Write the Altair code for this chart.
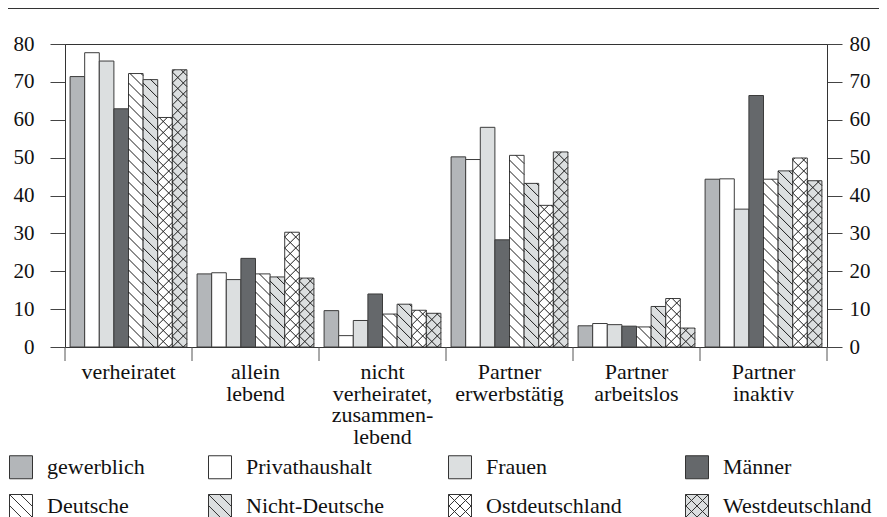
import math
import altair as alt
import pandas as pd

# ---------------- data ----------------
categories = ["verheiratet", "allein lebend", "nicht verheiratet, zusammenlebend",
              "Partner erwerbstätig", "Partner arbeitslos", "Partner inaktiv"]
category_labels = ["verheiratet", "allein|lebend", "nicht|verheiratet,|zusammen-|lebend",
                   "Partner|erwerbstätig", "Partner|arbeitslos", "Partner|inaktiv"]

series_names = ["gewerblich", "Privathaushalt", "Frauen", "Männer",
                "Deutsche", "Nicht-Deutsche", "Ostdeutschland", "Westdeutschland"]

gewerblich = [71.4, 19.3, 9.6, 50.2, 5.6, 44.3]
privathaushalt = [77.7, 19.6, 3.0, 49.5, 6.2, 44.4]
frauen = [75.5, 17.8, 7.0, 58.0, 5.9, 36.4]
maenner = [62.9, 23.4, 14.0, 28.3, 5.5, 66.4]
deutsche = [72.2, 19.3, 8.7, 50.6, 5.3, 44.3]
nicht_deutsche = [70.6, 18.5, 11.3, 43.2, 10.7, 46.5]
ostdeutschland = [60.6, 30.3, 9.7, 37.4, 12.8, 49.9]
westdeutschland = [73.2, 18.2, 8.9, 51.5, 5.0, 43.9]

series_values = [gewerblich, privathaushalt, frauen, maenner,
                 deutsche, nicht_deutsche, ostdeutschland, westdeutschland]

y_ticks = [0, 10, 20, 30, 40, 50, 60, 70, 80]

# ---------------- style ----------------
fill_colors = ["#b3b6b9", "#ffffff", "#dcdfe0", "#65686b",
               "#ffffff", "#dcdfe0", "#ffffff", "#dcdfe0"]
outline_colors = ["#333333"] * len(series_names)
hatch_kind = ["none", "none", "none", "none", "back", "back", "cross", "cross"]

SQ = "M-1,-1H1V1H-1Z"
BACK = SQ + " M-1,-1L1,1 M-1,-0.04L0.04,1 M-0.04,-1L1,0.04"
CROSS = BACK + " M-1,1L1,-1 M-0.04,1L1,-0.04 M-1,0.04L0.04,-1"
shape_paths = [SQ if k == "none" else (BACK if k == "back" else CROSS) for k in hatch_kind]

FONT = "Liberation Serif"
TXT = "#111"
FS = 21        # tick labels
FSL = 22       # category / legend labels
W, H = 762, 303
NCAT = len(categories)
YMAX = 80
PAD = 0.04
BW = (1 - 2 * PAD) / len(series_names)
PX = W / NCAT
PY = H / YMAX
S = 11.0  # hatch spacing (px)

# ---------------- tables ----------------
rows = []
hatch = []
for si, (name, vals) in enumerate(zip(series_names, series_values)):
    for ci, v in enumerate(vals):
        x0 = ci + PAD + si * BW
        rows.append(dict(series=name, cat=categories[ci], x0=x0, x1=x0 + BW, v=v))
        kind = hatch_kind[si]
        if kind == "none":
            continue
        w = BW * PX
        h = v * PY
        k = 1
        while k * S < h + w:          # "\" lines
            c = k * S
            t0, t1 = max(0.0, c - h), min(w, c)
            if t1 > t0:
                hatch.append(dict(x=x0 + t0 / PX, x2=x0 + t1 / PX,
                                  y=(c - t0) / PY, y2=(c - t1) / PY))
            k += 1
        if kind == "cross":
            k = -int(math.ceil(w / S))
            while k * S < h:          # "/" lines
                c = k * S
                t0, t1 = max(0.0, -c), min(w, h - c)
                if t1 > t0:
                    hatch.append(dict(x=x0 + t0 / PX, x2=x0 + t1 / PX,
                                      y=(c + t0) / PY, y2=(c + t1) / PY))
                k += 1

bars = pd.DataFrame(rows)
hatch_df = pd.DataFrame(hatch)
cat_df = pd.DataFrame({"pos": [i + 0.5 for i in range(NCAT)], "label": category_labels})
bound_df = pd.DataFrame({"b": list(range(NCAT + 1))})

xscale = alt.Scale(domain=[0, NCAT], nice=False, zero=False)
def yscale():
    return alt.Scale(domain=[0, YMAX], nice=False)

def y_axis(orient, pad):
    return alt.Axis(orient=orient, values=y_ticks, tickSize=15, tickColor="#444", tickWidth=1,
                    domain=True, domainColor="#333", grid=False, title=None,
                    labelFont=FONT, labelFontSize=FS, labelColor=TXT, labelPadding=pad)

fill_scale = alt.Scale(domain=series_names, range=fill_colors)
shape_scale = alt.Scale(domain=series_names, range=shape_paths)
stroke_scale = alt.Scale(domain=series_names, range=outline_colors)

legend = alt.Legend(title=None, orient="none", legendX=-56, legendY=411, direction="horizontal",
                    columns=4, columnPadding=61, rowPadding=11, symbolSize=529,
                    symbolStrokeWidth=1, symbolOpacity=1,
                    labelFont=FONT, labelFontSize=FSL, labelColor=TXT, labelOffset=14,
                    gridAlign="each", padding=0, labelLimit=300)

bar_layer = alt.Chart(bars).mark_rect(stroke="#3c3c3c", strokeWidth=1).encode(
    x=alt.X("x0:Q", scale=xscale, axis=None),
    x2="x1:Q",
    y=alt.Y("v:Q", scale=yscale(), axis=y_axis("left", 16)),
    y2=alt.datum(0),
    fill=alt.Fill("series:N", scale=fill_scale, legend=legend),
)

# invisible points that carry the hatched legend symbols
legend_layer = alt.Chart(bars).mark_point(filled=True, opacity=0, size=1, strokeWidth=1).encode(
    x=alt.X("x0:Q", scale=xscale, axis=None),
    y=alt.Y("v:Q", scale=yscale(), axis=None),
    fill=alt.Fill("series:N", scale=fill_scale, legend=legend),
    shape=alt.Shape("series:N", scale=shape_scale, legend=legend),
    stroke=alt.Stroke("series:N", scale=stroke_scale, legend=legend),
)

hatch_layer = alt.Chart(hatch_df).mark_rule(color="#1a1a1a", strokeWidth=1).encode(
    x=alt.X("x:Q", scale=xscale, axis=None),
    x2="x2:Q",
    y=alt.Y("y:Q", scale=yscale(), axis=y_axis("right", 7)),
    y2="y2:Q",
)

# category separator ticks below the zero line
sep_layer = alt.Chart(bound_df).mark_rule(color="#555", strokeWidth=1).encode(
    x=alt.X("b:Q", scale=xscale, axis=None),
    y=alt.value(H),
    y2=alt.value(H + 14),
)

label_layer = alt.Chart(cat_df).mark_text(
    font=FONT, fontSize=FSL, color=TXT, baseline="top", align="center",
    lineBreak="|", lineHeight=21.5, dy=H + 15 - 150,
).encode(
    x=alt.X("pos:Q", scale=xscale, axis=None),
    y=alt.value(150),
    text="label:N",
)

top_rule = alt.Chart(cat_df).mark_rule(color="#333", strokeWidth=1).encode(
    x=alt.value(-57), x2=alt.value(814), y=alt.value(-35.5)
)

chart = alt.layer(bar_layer, hatch_layer, legend_layer, sep_layer, label_layer, top_rule).resolve_scale(
    y="independent"
).properties(
    width=W, height=H,
    autosize=alt.AutoSizeParams(type="none"),
    padding={"left": 57, "top": 36, "right": 52, "bottom": 170},
).configure_view(stroke="#333", strokeWidth=1)

chart.save("out.html", embed_options={"renderer": "svg", "actions": False})
